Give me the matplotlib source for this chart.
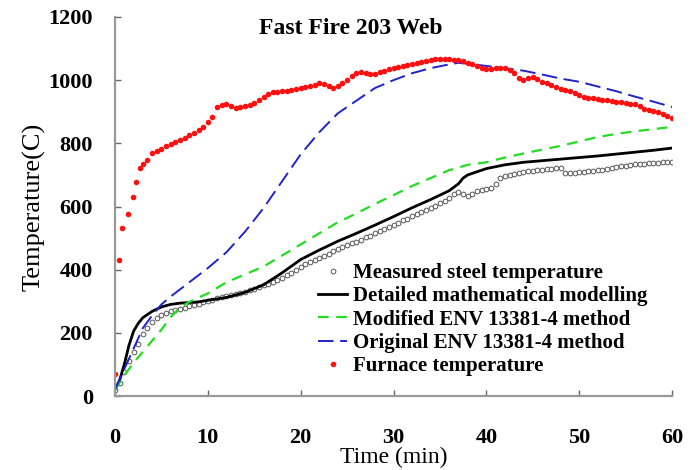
import numpy as np
import matplotlib
matplotlib.use("Agg")
import matplotlib.pyplot as plt

plt.rcParams['font.family'] = ['Liberation Serif', 'DejaVu Serif']
plt.rcParams['font.weight'] = 'bold'

# furnace temperature (red dots): a few sparse early readings, then every 0.5 min
furnace_t = [0.05, 0.4, 0.8, 1.4, 1.9, 2.3, 2.7] + list(np.arange(3.0, 60.01, 0.5))
furnace_T = [70, 432, 533, 575, 630, 676, 723,
             735, 748, 768, 777, 783, 790, 797, 803, 811, 818,
             826, 834, 842, 852, 866, 883, 914, 922, 926, 918,
             912, 914, 918, 922, 928, 938, 946, 955, 962, 963,
             965, 966, 968, 972, 975, 978, 980, 986, 990, 987,
             983, 976, 982, 992, 1000, 1012, 1022, 1026, 1024, 1020,
             1021, 1026, 1030, 1036, 1040, 1043, 1045, 1047, 1050, 1055,
             1059, 1061, 1063, 1066, 1068, 1067, 1066, 1065, 1063, 1060,
             1055, 1050, 1046, 1040, 1034, 1036, 1040, 1039, 1037, 1033,
             1022, 1008, 1002, 1006, 1010, 1003, 995, 990, 985, 978,
             972, 968, 965, 960, 954, 948, 945, 943, 941, 938,
             936, 934, 932, 930, 928, 926, 923, 918, 908, 904,
             901, 898, 893, 886, 880]

# measured steel temperature, every 0.5 min
measured_t = list(np.arange(0.0, 60.01, 0.5))
measured_T = [20, 40, 75, 110, 140, 165, 195, 215, 235, 248,
              255, 262, 268, 272, 276, 280, 284, 288, 292, 297,
              302, 305, 309, 312, 316, 320, 323, 326, 330, 335,
              340, 345, 350, 356, 362, 368, 375, 382, 390, 398,
              410, 418, 425, 432, 438, 444, 450, 458, 465, 471,
              477, 483, 489, 495, 502, 508, 515, 521, 528, 535,
              542, 549, 556, 562, 569, 576, 582, 589, 595, 602,
              610, 618, 628, 640, 645, 638, 632, 640, 648, 652,
              655, 660, 670, 690, 695, 700, 704, 707, 709, 711,
              713, 715, 717, 718, 720, 721, 722, 706, 705, 707,
              709, 710, 712, 713, 715, 717, 720, 723, 725, 727,
              729, 731, 733, 735, 736, 737, 738, 739, 740, 741,
              742]

# detailed mathematical modelling
model_t = [0, 0.5, 1, 1.5, 2, 2.5, 3, 4, 5, 6, 7, 8, 9, 10, 12, 14, 16, 18, 20,
           22, 24, 26, 28, 30, 32, 34, 36, 37, 37.5, 38, 40, 42, 44, 46, 48,
           50, 52, 54, 56, 58, 60]
model_T = [20, 50, 100, 160, 205, 230, 248, 268, 282, 290, 294, 296, 298, 303,
           312, 328, 352, 390, 432, 462, 490, 515, 541, 568, 596, 622, 650, 672,
           690, 700, 720, 732, 740, 745, 750, 755, 760, 766, 772, 778, 785]

# modified ENV 13381-4 method
mod_t = [0, 1, 2, 3, 4, 5, 6, 7, 8, 10, 12, 14, 16, 18, 20, 22, 24, 26, 28, 30,
         32, 34, 36, 38, 40, 42, 44, 46, 48, 50, 52, 54, 56, 58, 60]
mod_T = [20, 65, 105, 140, 175, 210, 250, 280, 298, 325, 360, 385, 410, 445,
         480, 515, 550, 578, 608, 636, 665, 690, 715, 732, 740, 755, 768, 780,
         792, 806, 820, 830, 838, 845, 852]

# original ENV 13381-4 method
orig_t = [0, 1, 2, 3, 4, 5, 6, 8, 10, 12, 14, 16, 18, 20, 22, 24, 26, 28, 30,
          32, 34, 36, 37, 38, 40, 42, 44, 46, 48, 50, 52, 54, 56, 58, 60]
orig_T = [20, 85, 150, 215, 255, 290, 315, 360, 405, 455, 520, 595, 680, 765,
          835, 895, 935, 975, 1000, 1022, 1038, 1050, 1055, 1052, 1045, 1038,
          1030, 1018, 1005, 995, 980, 965, 948, 932, 915]

labels = ["Measured steel temperature", "Detailed mathematical modelling",
          "Modified ENV 13381-4 method", "Original ENV 13381-4 method",
          "Furnace temperature"]

fig = plt.figure(figsize=(6.9, 4.7), dpi=100)
ax = fig.add_axes([115 / 690, 1 - 396 / 470, 557 / 690, 379 / 470])

ax.plot(measured_t, measured_T, 'o', ms=3.4, mfc='white', mec='#555555',
        mew=0.7, label=labels[0])
ax.plot(model_t, model_T, '-', color='black', lw=2.0, label=labels[1])
ax.plot(mod_t, mod_T, color='#22dd22', lw=1.6, dashes=(4.8, 3.4),
        label=labels[2])
ax.plot(orig_t, orig_T, color='#2222cc', lw=1.4, dashes=(8, 3.4),
        label=labels[3])
ax.plot(furnace_t, furnace_T, 'o', ms=4.0, color='#ff1010', mec='none',
        label=labels[4])

ax.set_xlim(0, 60)
ax.set_ylim(0, 1200)
ax.set_xticks(range(0, 61, 10))
ax.set_yticks(range(0, 1201, 200))

for side in ['top', 'right']:
    ax.spines[side].set_visible(False)
for side in ['left', 'bottom']:
    ax.spines[side].set_color('#999999')
    ax.spines[side].set_linewidth(1.6)

ax.tick_params(axis='x', direction='in', length=4, width=1, color='#666666',
               pad=23, labelsize=16)
ax.tick_params(axis='y', direction='in', length=4, width=1, color='#666666',
               pad=16, labelsize=16)

ax.set_xlabel("Time (min)", fontsize=17, labelpad=-1)
ax.set_ylabel("Temperature(C)", fontsize=19, labelpad=2)

fig.text(351 / 690, 1 - 29 / 470, "Fast Fire 203 Web", fontsize=17,
         ha='center', va='center')

ax.legend(loc='upper left', bbox_to_anchor=(318 / 690, 1 - 263 / 470),
          bbox_transform=fig.transFigure, frameon=False, fontsize=15,
          handlelength=1.4, handletextpad=0.3, labelspacing=0.16,
          borderpad=0, borderaxespad=0, numpoints=1)

fig.savefig("out.png", dpi=100)
